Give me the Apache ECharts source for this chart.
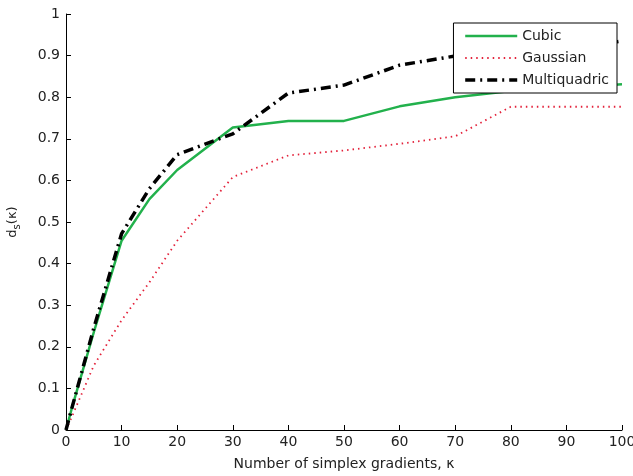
<!DOCTYPE html>
<html>
<head>
<meta charset="utf-8">
<script src="https://cdn.jsdelivr.net/npm/echarts@6/dist/echarts.min.js"></script>
<style>
  html, body { margin: 0; padding: 0; background: #fff; }
  #chart { width: 633px; height: 476px; }
</style>
</head>
<body>
<div id="chart"></div>
<script>
// number of simplex gradients (kappa)
var kappa = [0, 1, 5, 10, 15, 20, 30, 40, 50, 60, 70, 80, 90, 100];
var cubic = [0, 0.05, 0.235, 0.455, 0.555, 0.625, 0.727, 0.743, 0.743, 0.778, 0.8, 0.815, 0.822, 0.831];
var gaussian = [0, 0.03, 0.155, 0.264, 0.355, 0.455, 0.608, 0.66, 0.672, 0.688, 0.706, 0.777, 0.777, 0.777];
var multiquadric = [0, 0.05, 0.245, 0.472, 0.58, 0.662, 0.712, 0.81, 0.829, 0.877, 0.899, 0.9, 0.915, 0.935];
var xTicks = [0, 10, 20, 30, 40, 50, 60, 70, 80, 90, 100];

function pairs(ys) {
  return kappa.map(function (k, i) { return [k, ys[i]]; });
}

var chart = echarts.init(document.getElementById('chart'));
var font = 'DejaVu Sans, sans-serif';

var option = {
  backgroundColor: '#fff',
  animation: false,
  grid: { left: 66, right: 11, top: 14, bottom: 46, outerBoundsMode: 'none', containLabel: false },
  legend: {
    show: true,
    z: 20,
    orient: 'vertical',
    right: 16,
    top: 23,
    itemWidth: 52,
    itemHeight: 14,
    itemGap: 8,
    padding: [6, 8, 6, 10],
    backgroundColor: '#fff',
    borderColor: '#000',
    borderWidth: 1,
    itemStyle: { opacity: 0 },
    textStyle: { fontFamily: font, fontSize: 14, color: '#222' },
    data: [
      { name: 'Cubic', lineStyle: { width: 2.5 } },
      { name: 'Gaussian', lineStyle: { width: 1.8 } },
      { name: 'Multiquadric', lineStyle: { width: 3.5 } }
    ]
  },
  xAxis: {
    type: 'value',
    min: 0,
    max: 100,
    interval: 10,
    name: 'Number of simplex gradients, κ',
    nameLocation: 'middle',
    nameGap: 27,
    nameTextStyle: { fontFamily: font, fontSize: 14, color: '#222' },
    axisLine: { lineStyle: { color: '#000', width: 1 } },
    axisTick: { inside: true, length: 5, lineStyle: { color: '#000' } },
    axisLabel: {
      fontFamily: font, fontSize: 14, color: '#222', margin: 5,
      formatter: function (v) { return xTicks.indexOf(v) >= 0 ? String(v) : ''; }
    },
    splitLine: { show: false }
  },
  yAxis: {
    type: 'value',
    min: 0,
    max: 1,
    interval: 0.1,
    name: '{a|d}{b|s}{a|(κ)}',
    nameLocation: 'middle',
    nameGap: 44,
    nameRotate: 90,
    nameTextStyle: {
      rich: {
        a: { fontFamily: font, fontSize: 13, color: '#222', lineHeight: 18, verticalAlign: 'middle' },
        b: { fontFamily: font, fontSize: 10, color: '#222', lineHeight: 18, verticalAlign: 'bottom' }
      }
    },
    axisLine: { show: true, lineStyle: { color: '#000', width: 1 } },
    axisTick: { show: true, inside: true, length: 5, lineStyle: { color: '#000' } },
    axisLabel: {
      fontFamily: font, fontSize: 14, color: '#222', margin: 6,
      formatter: function (v) { return String(parseFloat(v.toFixed(1))); }
    },
    splitLine: { show: false }
  },
  series: [
    {
      name: 'Cubic',
      type: 'line',
      data: pairs(cubic),
      symbol: 'none',
      z: 3,
      itemStyle: { color: '#22b14c' },
      lineStyle: { color: '#22b14c', width: 2.5 }
    },
    {
      name: 'Gaussian',
      type: 'line',
      data: pairs(gaussian),
      symbol: 'none',
      z: 2,
      itemStyle: { color: '#e3213a' },
      lineStyle: { color: '#e3213a', width: 1.8, type: [1.5, 4] }
    },
    {
      name: 'Multiquadric',
      type: 'line',
      data: pairs(multiquadric),
      symbol: 'none',
      z: 4,
      itemStyle: { color: '#000' },
      lineStyle: { color: '#000', width: 3.5, type: [10, 5, 2, 5] }
    }
  ]
};

chart.setOption(option);
</script>
</body>
</html>
